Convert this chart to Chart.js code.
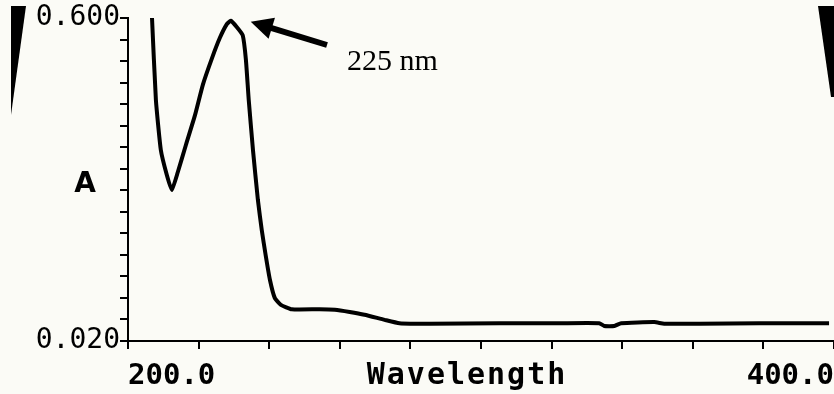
<!DOCTYPE html>
<html>
<head>
<meta charset="utf-8">
<script src="https://cdn.jsdelivr.net/npm/chart.js@4/dist/chart.umd.min.js"></script>
<style>
  html, body { margin: 0; padding: 0; background: #fbfbf6; }
  #wrap { width: 834px; height: 394px; position: relative; }
</style>
</head>
<body>
<div id="wrap"><canvas id="c"></canvas></div>
<script>
// Wavelength (nm) and absorbance
const wavelengths = [206.8, 207.9, 209.3, 211.0, 212.4, 214.1, 216.4, 219.0, 221.2, 223.8, 226.0, 228.0, 229.1,
  230.8, 232.5, 233.4, 234.2, 235.4, 236.8, 237.9, 239.0, 240.2, 241.6, 243.3, 246.4, 254.3, 258.6, 262.8,
  267.0, 272.7, 276.9, 285.4, 305.2, 322.2, 333.5, 334.9, 337.8, 339.7, 349.1, 351.9, 361.8, 378.8, 398.6];
const absorbance = [0.600, 0.453, 0.363, 0.318, 0.291, 0.323, 0.372, 0.426, 0.480, 0.528, 0.564, 0.589, 0.595,
  0.584, 0.569, 0.525, 0.453, 0.363, 0.273, 0.219, 0.174, 0.130, 0.097, 0.085, 0.077, 0.077, 0.076, 0.072,
  0.067, 0.058, 0.052, 0.051, 0.052, 0.052, 0.052, 0.047, 0.047, 0.052, 0.054, 0.051, 0.051, 0.052, 0.052];

const X_MIN = 200, X_MAX = 400, X_STEP = 20;
const Y_MIN = 0.020, Y_MAX = 0.600, Y_DIVISIONS = 15;
const xTickLabels = { 200: '200.0', 400: '400.0' };
const yTickLabels = ['0.020', '0.600'];
const xTitle = 'Wavelength';
const yTitle = 'A';
const peakLabel = '225 nm';
const peakWavelength = 229.1, peakAbsorbance = 0.595;

const points = wavelengths.map((w, i) => ({ x: w, y: absorbance[i] }));

const extras = {
  id: 'extras',
  afterDraw(chart) {
    const ctx = chart.ctx;
    const xs = chart.scales.x, ys = chart.scales.y;
    ctx.save();
    // scan artefacts (black wedges at the top corners)
    ctx.fillStyle = '#000';
    ctx.beginPath(); ctx.moveTo(11, 6); ctx.lineTo(26, 6); ctx.lineTo(11, 115); ctx.closePath(); ctx.fill();
    ctx.beginPath(); ctx.moveTo(818, 6); ctx.lineTo(834, 6); ctx.lineTo(834, 97); ctx.lineTo(831, 97); ctx.closePath(); ctx.fill();
    // axis titles
    ctx.fillStyle = '#000';
    ctx.textBaseline = 'middle';
    ctx.textAlign = 'center';
    ctx.font = 'bold 30px "DejaVu Sans Mono"';
    try { ctx.letterSpacing = '2px'; } catch (e) {}
    ctx.fillText(xTitle, 467, 376);
    try { ctx.letterSpacing = '0px'; } catch (e) {}
    ctx.font = 'bold 28px "DejaVu Sans"';
    ctx.fillText(yTitle, 85, 185);
    // peak annotation
    const px = xs.getPixelForValue(peakWavelength) + 20;
    const py = ys.getPixelForValue(peakAbsorbance) + 1;
    const tx = 327, ty = 45;
    const ang = Math.atan2(py - ty, px - tx);
    ctx.strokeStyle = '#000';
    ctx.lineWidth = 6;
    ctx.beginPath();
    ctx.moveTo(tx, ty);
    ctx.lineTo(px - 16 * Math.cos(ang), py - 16 * Math.sin(ang));
    ctx.stroke();
    ctx.beginPath();
    ctx.moveTo(px, py);
    ctx.lineTo(px - 22 * Math.cos(ang) + 11 * Math.sin(ang), py - 22 * Math.sin(ang) - 11 * Math.cos(ang));
    ctx.lineTo(px - 22 * Math.cos(ang) - 11 * Math.sin(ang), py - 22 * Math.sin(ang) + 11 * Math.cos(ang));
    ctx.closePath();
    ctx.fill();
    ctx.font = '30px "Liberation Serif"';
    ctx.textAlign = 'left';
    ctx.fillText(peakLabel, 347, 62);
    ctx.restore();
  }
};

new Chart(document.getElementById('c'), {
  type: 'line',
  data: {
    datasets: [{
      data: points,
      borderColor: '#000',
      borderWidth: 4,
      pointRadius: 0,
      tension: 0.15,
      fill: false
    }]
  },
  options: {
    responsive: true,
    maintainAspectRatio: false,
    animation: false,
    events: [],
    layout: { padding: { left: 0, right: 0, top: 18, bottom: 0 } },
    plugins: { legend: { display: false }, tooltip: { enabled: false } },
    scales: {
      x: {
        type: 'linear',
        min: X_MIN, max: X_MAX,
        border: { display: true, color: '#000', width: 2 },
        grid: { display: true, drawOnChartArea: false, drawTicks: true, tickLength: 8, color: '#000', lineWidth: 2 },
        afterFit(scale) {
          scale.height = 53;
          scale.paddingLeft = 0;
          scale.paddingRight = 0;
        },
        ticks: {
          stepSize: X_STEP,
          autoSkip: false,
          maxRotation: 0,
          align: 'inner',
          padding: 10,
          color: '#000',
          font: { family: '"DejaVu Sans Mono"', size: 29, weight: 'bold' },
          callback: (v) => xTickLabels[v] || ''
        }
      },
      y: {
        type: 'linear',
        min: Y_MIN, max: Y_MAX,
        border: { display: true, color: '#000', width: 2 },
        grid: { display: true, drawOnChartArea: false, drawTicks: true, tickLength: 8, color: '#000', lineWidth: 2 },
        afterBuildTicks(scale) {
          const t = [];
          for (let k = 0; k <= Y_DIVISIONS; k++) t.push({ value: Y_MIN + (Y_MAX - Y_MIN) * k / Y_DIVISIONS });
          scale.ticks = t;
        },
        afterFit(scale) {
          scale.width = 128;
          scale.paddingTop = 0;
          scale.paddingBottom = 0;
        },
        ticks: {
          autoSkip: false,
          padding: 0,
          color: '#000',
          font: { family: '"DejaVu Sans Mono"', size: 28 },
          callback: (v, i, arr) => i === 0 ? yTickLabels[0] : (i === arr.length - 1 ? yTickLabels[1] : '')
        }
      }
    }
  },
  plugins: [extras]
});
</script>
</body>
</html>
